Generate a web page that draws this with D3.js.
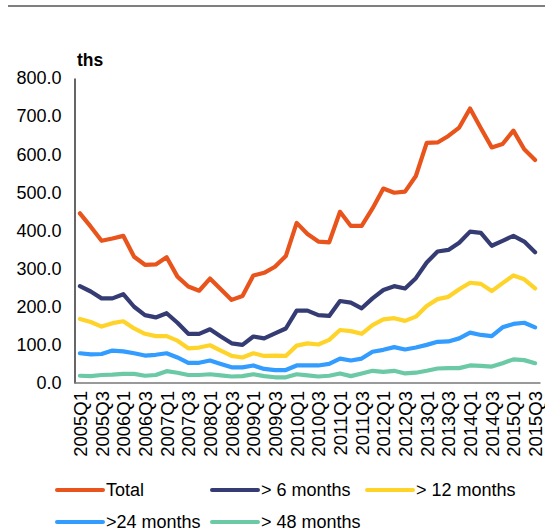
<!DOCTYPE html>
<html>
<head>
<meta charset="utf-8">
<script src="https://cdn.jsdelivr.net/npm/d3@7"></script>
<style>
  html, body { margin: 0; padding: 0; background: #fff; }
  svg { display: block; font-family: "Liberation Sans", Arial, sans-serif; }
</style>
</head>
<body>
<svg id="chart" width="545" height="531"></svg>
<script>
// Quarters 2005Q1 .. 2015Q3
const quarters = [];
for (let y = 2005; y <= 2015; y++) {
  for (let q = 1; q <= 4; q++) {
    if (y === 2015 && q > 3) break;
    quarters.push(y + "Q" + q);
  }
}

// Unemployed, thousands, by duration
const total = [445, 410, 373, 379, 386, 331, 310, 311, 330, 279, 253, 242, 274, 246, 218,
  228, 282, 289, 305, 333, 420, 391, 371, 369, 449, 412, 412, 458, 510,
  499, 502, 543, 630, 631, 648, 670, 720, 668, 618, 627, 662, 613, 585];
const over6 = [254, 240, 222, 222, 233, 200, 178, 172, 183, 158, 129, 129, 141, 122, 104,
  100, 122, 117, 130, 143, 190, 190, 178, 176, 215, 211, 196, 222, 244,
  254, 248, 275, 316, 345, 349, 368, 397, 394, 360, 373, 386, 371, 343];
const over12 = [168, 160, 148, 157, 162, 143, 129, 123, 123, 111, 91, 93, 99, 85, 71,
  67, 78, 71, 72, 71, 98, 104, 101, 113, 139, 136, 129, 152, 167,
  170, 163, 174, 202, 220, 226, 246, 263, 260, 241, 262, 282, 272, 248];
const over24 = [78, 75, 76, 85, 83, 78, 72, 74, 78, 67, 53, 53, 59, 50, 41,
  41, 46, 37, 34, 34, 46, 46, 46, 50, 64, 59, 64, 82, 87,
  94, 88, 93, 100, 108, 109, 117, 132, 126, 123, 146, 155, 158, 146];
const over48 = [19, 18, 21, 22, 24, 24, 19, 21, 31, 27, 21, 21, 23, 20, 17,
  18, 23, 18, 15, 15, 23, 20, 17, 19, 25, 18, 25, 32, 29,
  32, 25, 27, 32, 38, 39, 39, 46, 45, 43, 52, 62, 60, 52];

const seriesNames = ["Total", "> 6 months", "> 12 months", ">24 months", "> 48 months"];
const seriesValues = [total, over6, over12, over24, over48];
const seriesColors = ["#E8541B", "#353C73", "#FFD42A", "#339CFF", "#6CC9A6"];

const yTicks = [0, 100, 200, 300, 400, 500, 600, 700, 800];
const tickLabels = quarters.filter((d, i) => i % 2 === 0);

const svg = d3.select("#chart");
const plot = { left: 74.5, right: 540.5, top: 78, bottom: 383 };
const font = "'Liberation Sans', Arial, sans-serif";

// rule at the very top of the panel
svg.append("line")
  .attr("x1", 8).attr("x2", 545).attr("y1", 6).attr("y2", 6)
  .attr("stroke", "#000").attr("stroke-width", 1.2);

const x = d3.scalePoint().domain(quarters).range([plot.left, plot.right]).padding(0.5);
const y = d3.scaleLinear().domain([0, 800]).range([plot.bottom, plot.top]);

// y axis
const yAxis = svg.append("g")
  .attr("transform", `translate(${plot.left},0)`)
  .call(d3.axisLeft(y).tickValues(yTicks).tickFormat(d3.format(".1f")).tickSize(0).tickPadding(13));
yAxis.select(".domain").attr("stroke", "#000").attr("stroke-width", 1.2);
yAxis.selectAll("text").attr("font-size", 18).attr("fill", "#000").attr("font-family", font);

// x axis
const xAxis = svg.append("g")
  .attr("transform", `translate(0,${plot.bottom})`)
  .call(d3.axisBottom(x).tickValues(tickLabels).tickSize(0).tickPadding(0));
xAxis.select(".domain").attr("stroke", "#777").attr("stroke-width", 1.5)
  .attr("d", `M${plot.left},0H${plot.right}`);
xAxis.selectAll("text")
  .attr("font-size", 18.5).attr("fill", "#000")
  .attr("font-family", font)
  .attr("text-anchor", "end")
  .attr("dy", "0.35em")
  .attr("transform", "translate(0,8) rotate(-90)")
  .attr("x", 0).attr("y", 0);

// unit label
svg.append("text")
  .attr("x", 77).attr("y", 66)
  .attr("font-size", 17.5).attr("font-weight", "bold")
  .text("ths");

// lines
const line = d3.line()
  .x((d, i) => x(quarters[i]))
  .y(d => y(d))
  .curve(d3.curveLinear);

seriesValues.forEach((vals, k) => {
  svg.append("path")
    .datum(vals)
    .attr("fill", "none")
    .attr("stroke", seriesColors[k])
    .attr("stroke-width", 4.2)
    .attr("stroke-linejoin", "round")
    .attr("stroke-linecap", "round")
    .attr("d", line);
});

// legend
const legendPos = [
  { x: 57, y: 490 }, { x: 212, y: 490 }, { x: 367, y: 490 },
  { x: 57, y: 522 }, { x: 212, y: 522 }
];
seriesNames.forEach((name, k) => {
  const g = svg.append("g").attr("transform", `translate(${legendPos[k].x},${legendPos[k].y})`);
  g.append("line")
    .attr("x1", 0).attr("x2", 46).attr("y1", 0).attr("y2", 0)
    .attr("stroke", seriesColors[k]).attr("stroke-width", 4).attr("stroke-linecap", "round");
  g.append("text")
    .attr("x", 49).attr("y", 0).attr("dy", "0.35em")
    .attr("font-size", 18).attr("fill", "#000")
    .text(name);
});
</script>
</body>
</html>
